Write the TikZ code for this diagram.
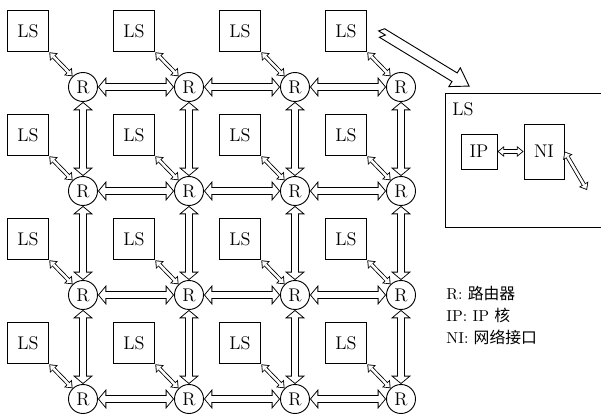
\documentclass[tikz,border=0pt]{standalone}
\usepackage{fontspec}
\newfontfamily\cjk{Noto Sans CJK SC}
\usetikzlibrary{arrows.meta,positioning,calc}

\tikzset{
  router/.style={draw,circle,minimum size=17.4pt,inner sep=0pt,
    font=\fontsize{11}{12}\selectfont},
  lsbox/.style={draw,minimum size=25pt,inner sep=0pt,
    font=\fontsize{11}{12}\selectfont},
  % hollow double-headed arrows: black outline, white inside
  link/.style={line width=4.8pt,
    {Triangle[length=5pt,width=12pt,line width=0pt]}-{Triangle[length=5pt,width=12pt,line width=0pt]},
    postaction={draw=white,line width=3.7pt,shorten <=0.72pt,shorten >=0.72pt,
      {Triangle[length=3.73pt,width=8.95pt,line width=0pt]}-{Triangle[length=3.73pt,width=8.95pt,line width=0pt]}}},
  port/.style={line width=2.5pt,
    {Triangle[length=4pt,width=6.5pt,line width=0pt]}-{Triangle[length=4pt,width=6.5pt,line width=0pt]},
    postaction={draw=white,line width=1.5pt,shorten <=0.79pt,shorten >=0.79pt,
      {Triangle[length=2.71pt,width=4.4pt,line width=0pt]}-{Triangle[length=2.71pt,width=4.4pt,line width=0pt]}}},
}

\begin{document}
\begin{tikzpicture}[x=0.6pt,y=-0.6pt,line width=0.55pt]
\useasboundingbox (0,0) rectangle (601,415);
% mesh of routers, each with its local subsystem
\foreach \i in {1,...,4}
  \foreach \j in {1,...,4}{
    \node[router] (r-\i-\j) at ({83+106*(\j-1)},{87+104*(\i-1)}) {R};
    \node[lsbox] (ls-\i-\j) at ({28+106*(\j-1)},{31+104*(\i-1)}) {LS};
  }
% links between neighbouring routers
\foreach \i in {1,...,4}
  \foreach \j/\k in {1/2,2/3,3/4}{
    \draw[link] (r-\i-\j) -- (r-\i-\k);
    \draw[link] (r-\j-\i) -- (r-\k-\i);
  }
\foreach \i in {1,...,4}
  \foreach \j in {1,...,4}
    \draw[port] (ls-\i-\j.south east) -- (r-\i-\j);
% inside of one LS
\node[draw,anchor=north west,minimum width=96pt,minimum height=80.4pt,
  inner sep=0pt,line width=0.7pt] (ls) at (445,93) {};
\node[anchor=north west,inner sep=0pt,font=\fontsize{11}{12}\selectfont]
  (ls-label) at (452,102) {LS};
\node[draw,minimum width=21.6pt,minimum height=21pt,inner sep=0pt,
  font=\fontsize{11}{12}\selectfont] (ip) at (479,151.5) {IP};
\node[draw,minimum width=24pt,minimum height=33pt,inner sep=0pt,
  font=\fontsize{11}{12}\selectfont] (ni) at (544,151.5) {NI};
\coordinate (ni-out) at (587,190);
\draw[port] (ip) -- (ni);
\draw[port] (ni.east) -- (ni-out);
% big arrow pointing at the enlarged LS
\coordinate (zoom-from) at (382,33);
\begin{scope}[shift={(zoom-from)},rotate=-31.35]
  \draw[line join=miter] (0,-5) -- (85,-5) -- (85,-11) -- (102,0)
    -- (85,11) -- (85,5) -- (0,5) -- (4,0) -- (-4,0) -- cycle;
\end{scope}
% legend
\node[anchor=north west,align=left,inner sep=0pt,
  font=\fontsize{9.5}{13.2}\selectfont] (legend) at (446,286)
  {R: {\cjk 路由器}\\IP: IP {\cjk 核}\\NI: {\cjk 网络接口}};
\end{tikzpicture}
\end{document}
